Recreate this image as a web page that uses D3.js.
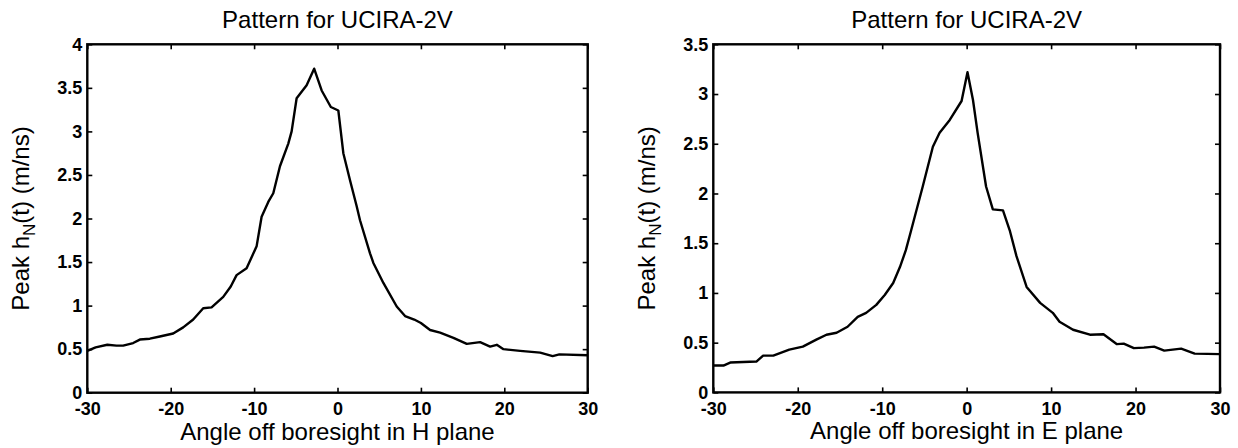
<!DOCTYPE html>
<html>
<head>
<meta charset="utf-8">
<script src="https://cdn.jsdelivr.net/npm/d3@7"></script>
<style>
  html, body { margin: 0; padding: 0; background: #fff; }
  svg { display: block; font-family: "Liberation Sans", Arial, Helvetica, sans-serif; }
</style>
</head>
<body>
<svg id="chart" width="1238" height="448"></svg>
<script>
// Peak h_N(t) versus angle off boresight, H plane
const hAngle = [-30, -29, -27.6, -26.5, -25.7, -24.5, -23.7, -22.5, -21.3, -19.7, -18.5, -17.3, -16.1, -15.1,
  -13.7, -12.8, -12.1, -10.9, -9.7, -9.1, -8.3, -7.7, -6.9, -5.9, -5.5, -4.9, -3.7, -2.8, -1.9, -0.8, 0.1,
  0.7, 1.5, 2.3, 2.7, 3.9, 4.3, 5.5, 7.1, 8.1, 9.2, 10, 11.1, 12.3, 13.9, 15.5, 17.1, 18.3, 19.1, 19.9,
  21.9, 24.3, 25.8, 26.6, 30];
const hPeak = [0.48, 0.52, 0.55, 0.54, 0.54, 0.57, 0.61, 0.62, 0.645, 0.68, 0.75, 0.84, 0.97, 0.98,
  1.10, 1.22, 1.35, 1.43, 1.68, 2.02, 2.19, 2.29, 2.60, 2.86, 3.00, 3.38, 3.53, 3.72, 3.47, 3.28, 3.24,
  2.75, 2.44, 2.14, 1.98, 1.60, 1.49, 1.26, 0.99, 0.88, 0.84, 0.80, 0.72, 0.69, 0.63, 0.56, 0.58, 0.53, 0.55, 0.50,
  0.48, 0.46, 0.42, 0.44, 0.43];

// Peak h_N(t) versus angle off boresight, E plane
const eAngle = [-30, -28.8, -28, -24.9, -24.1, -22.9, -21, -19.4, -17.8, -16.6, -15.4, -14.1, -12.9, -11.9,
  -10.7, -9.7, -8.7, -7.9, -7.2, -6.6, -5.2, -4.0, -3.2, -2.0, -0.6, 0.1, 0.75, 1.3, 2.3, 3.1, 4.3, 5.1,
  5.9, 7.1, 8.7, 10.2, 11.0, 12.6, 14.6, 16.2, 17.8, 18.6, 19.8, 21.0, 22.2, 23.4, 25.4, 27.0, 30];
const ePeak = [0.27, 0.27, 0.30, 0.31, 0.37, 0.37, 0.43, 0.46, 0.53, 0.58, 0.60, 0.66, 0.76, 0.80,
  0.88, 0.98, 1.10, 1.26, 1.43, 1.62, 2.07, 2.47, 2.61, 2.74, 2.93, 3.22, 2.94, 2.61, 2.07, 1.84, 1.83, 1.63,
  1.37, 1.06, 0.90, 0.80, 0.71, 0.63, 0.58, 0.585, 0.485, 0.49, 0.445, 0.45, 0.46, 0.42, 0.44, 0.39, 0.385];

const xTicks = [-30, -20, -10, 0, 10, 20, 30];
const hYTicks = [0, 0.5, 1, 1.5, 2, 2.5, 3, 3.5, 4];
const eYTicks = [0, 0.5, 1, 1.5, 2, 2.5, 3, 3.5];

const titleText = "Pattern for UCIRA-2V";
const hXLabel = "Angle off boresight in H plane";
const eXLabel = "Angle off boresight in E plane";

const svg = d3.select("#chart");

function panel(opts) {
  const { left, top, right, bottom, xs, ys, yMax, yTicks, xLabel } = opts;
  const w = right - left, h = bottom - top;
  const g = svg.append("g").attr("transform", `translate(${left},${top})`);

  const x = d3.scaleLinear().domain([-30, 30]).range([0, w]);
  const y = d3.scaleLinear().domain([0, yMax]).range([h, 0]);
  const fmt = d => String(d);

  const tickStyle = sel => {
    sel.select(".domain").remove();
    sel.selectAll(".tick line").attr("stroke", "#000").attr("stroke-width", 1.6);
    sel.selectAll(".tick text")
      .attr("fill", "#000")
      .style("font-family", "'Liberation Sans', Arial, sans-serif")
      .style("font-size", "18px")
      .style("font-weight", "bold");
  };

  g.append("g").attr("transform", `translate(0,${h})`)
    .call(d3.axisBottom(x).tickValues(xTicks).tickFormat(fmt).tickSize(-5).tickPadding(10))
    .call(tickStyle);
  g.append("g")
    .call(d3.axisTop(x).tickValues(xTicks).tickFormat("").tickSize(-5))
    .call(tickStyle);
  g.append("g")
    .call(d3.axisLeft(y).tickValues(yTicks).tickFormat(fmt).tickSize(-5).tickPadding(5))
    .call(tickStyle);
  g.append("g").attr("transform", `translate(${w},0)`)
    .call(d3.axisRight(y).tickValues(yTicks).tickFormat("").tickSize(-5))
    .call(tickStyle);

  // axes box
  g.append("rect")
    .attr("x", 0).attr("y", 0).attr("width", w).attr("height", h)
    .attr("fill", "none").attr("stroke", "#000").attr("stroke-width", 2.4);

  // pattern curve
  const pts = xs.map((a, i) => [a, ys[i]]);
  g.append("path")
    .datum(pts)
    .attr("fill", "none")
    .attr("stroke", "#000")
    .attr("stroke-width", 2.4)
    .attr("stroke-linejoin", "round")
    .attr("d", d3.line().x(d => x(d[0])).y(d => y(d[1])));

  // title
  g.append("text")
    .attr("x", w / 2).attr("y", -16)
    .attr("text-anchor", "middle")
    .style("font-size", "24px")
    .text(titleText);

  // x label
  g.append("text")
    .attr("x", w / 2).attr("y", h + 47)
    .attr("text-anchor", "middle")
    .style("font-size", "24px")
    .text(xLabel);

  // y label with subscript N
  const yl = g.append("text")
    .attr("transform", `translate(-58,${h / 2}) rotate(-90)`)
    .attr("text-anchor", "middle")
    .style("font-size", "24px");
  yl.append("tspan").text("Peak h");
  yl.append("tspan").attr("dy", 6).style("font-size", "17px").text("N");
  yl.append("tspan").attr("dy", -6).text("(t) (m/ns)");
}

panel({ left: 87.3, top: 44.3, right: 587.7, bottom: 392.7, xs: hAngle, ys: hPeak,
  yMax: 4, yTicks: hYTicks, xLabel: hXLabel });
panel({ left: 713.3, top: 44.3, right: 1220, bottom: 392.4, xs: eAngle, ys: ePeak,
  yMax: 3.5, yTicks: eYTicks, xLabel: eXLabel });
</script>
</body>
</html>
